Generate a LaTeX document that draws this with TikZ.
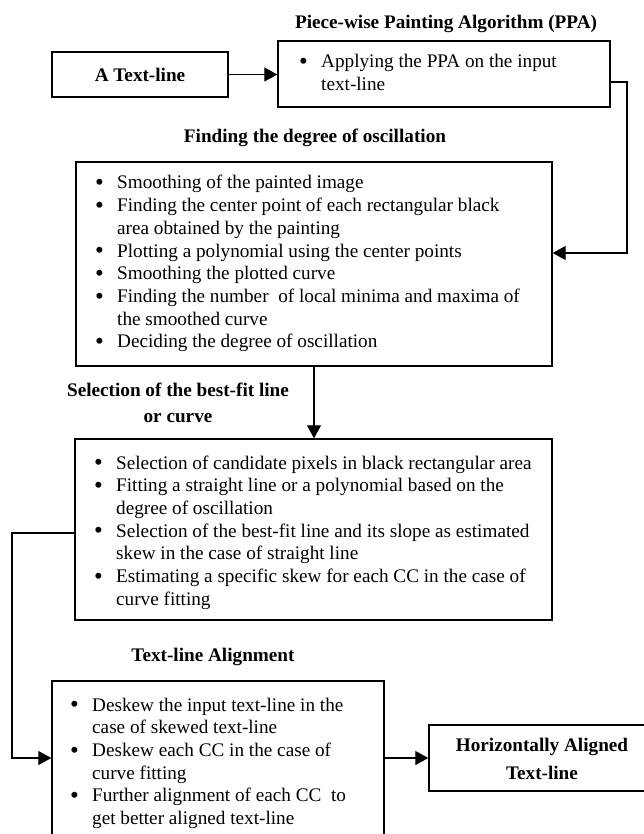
\documentclass[tikz,border=0pt]{standalone}
\usepackage{fontspec}
\usepackage{graphicx}
\setmainfont{Liberation Serif}
\usetikzlibrary{arrows.meta}
\tikzset{
  every node/.style={font=\fontsize{19.2}{22.7}\selectfont},
  boxst/.style={draw, line width=1.4pt, inner sep=0pt},
  ttl/.style={font=\fontsize{19.2}{22.7}\selectfont\bfseries, inner sep=0pt, anchor=base},
  lst/.style={inner sep=0pt, anchor=base west, align=flush left},
  conn/.style={line width=1.1pt, -{Triangle[length=13pt,width=14pt]}},
}
\newcommand\bul{\makebox[22pt][l]{\smash{\raisebox{-1.6pt}{\scalebox{1.3}{\textbullet}}}}}
\newcommand\ind{\hspace*{22pt}}
\begin{document}
\begin{tikzpicture}[x=1pt,y=-1pt]
\useasboundingbox (0,0) rectangle (644,834);
% titles
\node[ttl] (t1) at (446,29) {Piece-wise Painting Algorithm (PPA)};
\node[ttl] (t2) at (315,143) {Finding the degree of oscillation};
\node[ttl, text width=280pt, align=flush center, font=\fontsize{19.2}{26}\selectfont\bfseries] (t3) at (178,396) {Selection of the best-fit line\\or curve};
\node[ttl] (t4) at (213,661) {Text-line Alignment};
% boxes
\node[boxst, minimum width=176pt, minimum height=45pt, font=\fontsize{19.2}{22.7}\selectfont\bfseries] (a) at (140,74.5) {A Text-line};
\node[boxst, minimum width=332pt, minimum height=66pt] (ppa) at (444,74) {};
\node[boxst, minimum width=476pt, minimum height=204pt] (b2) at (314,264) {};
\node[boxst, minimum width=477pt, minimum height=181pt] (b3) at (313.5,529.5) {};
\node[boxst, minimum width=332pt, minimum height=159pt] (b4) at (218,760.5) {};
\node[boxst, minimum width=217pt, minimum height=66pt] (hb) at (537.5,758) {};
% box texts
\node[lst, text width=320pt] (ppat) at (299,68) {\bul Applying the PPA on the input\\\ind text-line};
\node[lst, text width=500pt] (b2t) at (95,189) {\bul Smoothing of the painted image\\
\bul Finding the center point of each rectangular black\\
\ind area obtained by the painting\\
\bul Plotting a polynomial using the center points\\
\bul Smoothing the plotted curve\\
\bul Finding the number~ of local minima and maxima of\\
\ind the smoothed curve\\
\bul Deciding the degree of oscillation};
\node[lst, text width=500pt] (b3t) at (94,469) {\bul Selection of candidate pixels in black rectangular area\\
\bul Fitting a straight line or a polynomial based on the\\
\ind degree of oscillation\\
\bul Selection of the best-fit line and its slope as estimated\\
\ind skew in the case of straight line\\
\bul Estimating a specific skew for each CC in the case of\\
\ind curve fitting};
\node[lst, text width=320pt] (b4t) at (70,711) {\bul Deskew the input text-line in the\\
\ind case of skewed text-line\\
\bul Deskew each CC in the case of\\
\ind curve fitting\\
\bul Further alignment of each CC~ to\\
\ind get better aligned text-line};
\node[ttl, text width=210pt, align=flush center, font=\fontsize{19.2}{28}\selectfont\bfseries] (hbt) at (542,751) {Horizontally Aligned\\Text-line};
% connectors
\coordinate (r1) at (627,82);
\coordinate (r2) at (627,253);
\coordinate (m) at (314,0);
\coordinate (l1) at (12,533);
\coordinate (l2) at (12,758);
\draw[conn] (a.east) -- (a.east -| ppa.west);
\draw[conn] (ppa.east |- r1) -- (r1) -- (r2) -- (r2 -| b2.east);
\draw[conn] (b2.south -| m) -- (b3.north -| m);
\draw[conn] (b3.west |- l1) -- (l1) -- (l2) -- (l2 -| b4.west);
\draw[conn] (b4.east |- hb.west) -- (hb.west);
\end{tikzpicture}
\end{document}
